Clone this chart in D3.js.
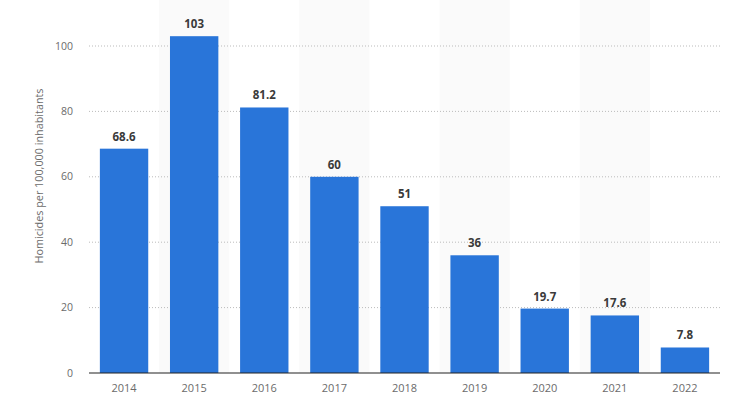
<!DOCTYPE html>
<html lang="en">
<head>
    <meta charset="UTF-8">
    <title>Homicides per 100,000 inhabitants</title>
    <script src="https://d3js.org/d3.v7.min.js"></script>
    <style>
        body {
            margin: 0;
            background: #fff;
            font-family: "Open Sans", Arial, sans-serif;
        }
        .tick-label {
            font-size: 10.5px;
            fill: #6b6b6b;
        }
        .value-label {
            font-size: 11.5px;
            font-weight: bold;
            fill: #3a3a3a;
            text-anchor: middle;
        }
    </style>
</head>
<body>
    <svg id="chart"></svg>
    <script>
        // Data
        const years = ["2014", "2015", "2016", "2017", "2018", "2019", "2020", "2021", "2022"];
        const rates = [68.6, 103, 81.2, 60, 51, 36, 19.7, 17.6, 7.8];
        const yTicks = [0, 20, 40, 60, 80, 100];

        const W = 737, H = 408;
        const margin = { top: 46, right: 17, bottom: 35, left: 89 },
              width = W - margin.left - margin.right,
              height = H - margin.top - margin.bottom;

        const svg = d3.select("#chart")
            .attr("width", W)
            .attr("height", H);

        const g = svg.append("g")
            .attr("transform", `translate(${margin.left},${margin.top})`);

        const x = d3.scaleBand()
            .domain(years)
            .range([0, width])
            .paddingInner(0.31)
            .paddingOuter(0.155);

        const y = d3.scaleLinear()
            .domain([0, 100])
            .range([height, 0]);

        // alternating column shading, top of page down to the baseline
        const step = x.step();
        g.append("g")
            .selectAll("rect")
            .data(years.filter((d, i) => i % 2 === 1))
            .join("rect")
            .attr("x", d => x(d) - step * 0.155)
            .attr("y", -margin.top)
            .attr("width", step)
            .attr("height", height + margin.top)
            .attr("fill", "#fafafa");

        // gridlines
        g.append("g")
            .selectAll("line")
            .data(yTicks.filter(d => d > 0))
            .join("line")
            .attr("x1", 0)
            .attr("x2", width)
            .attr("y1", d => y(d))
            .attr("y2", d => y(d))
            .attr("stroke", "#bbb")
            .attr("stroke-width", 1)
            .attr("stroke-dasharray", "1,2");

        // y tick labels
        g.append("g")
            .selectAll("text")
            .data(yTicks)
            .join("text")
            .attr("class", "tick-label")
            .attr("x", -16)
            .attr("y", d => y(d))
            .attr("dy", "0.35em")
            .attr("text-anchor", "end")
            .text(d => d);

        // y axis title
        g.append("text")
            .attr("transform", "rotate(-90)")
            .attr("x", -(176 - margin.top))
            .attr("y", -46)
            .attr("text-anchor", "middle")
            .style("font-size", "10.8px")
            .style("fill", "#6b6b6b")
            .text("Homicides per 100,000 inhabitants");

        // bars
        g.append("g")
            .selectAll("rect")
            .data(rates)
            .join("rect")
            .attr("x", (d, i) => x(years[i]))
            .attr("y", d => y(d))
            .attr("width", x.bandwidth())
            .attr("height", d => height - y(d))
            .attr("fill", "#2975d9");

        // value labels
        g.append("g")
            .selectAll("text")
            .data(rates)
            .join("text")
            .attr("class", "value-label")
            .attr("x", (d, i) => x(years[i]) + x.bandwidth() / 2)
            .attr("y", d => y(d) - 8)
            .text(d => d);

        // baseline
        g.append("line")
            .attr("x1", 0)
            .attr("x2", width)
            .attr("y1", height)
            .attr("y2", height)
            .attr("stroke", "#222")
            .attr("stroke-width", 1.2);

        // x labels
        g.append("g")
            .selectAll("text")
            .data(years)
            .join("text")
            .attr("class", "tick-label")
            .style("font-size", "11px")
            .attr("x", d => x(d) + x.bandwidth() / 2)
            .attr("y", height + 19)
            .attr("text-anchor", "middle")
            .text(d => d);
    </script>
</body>
</html>
